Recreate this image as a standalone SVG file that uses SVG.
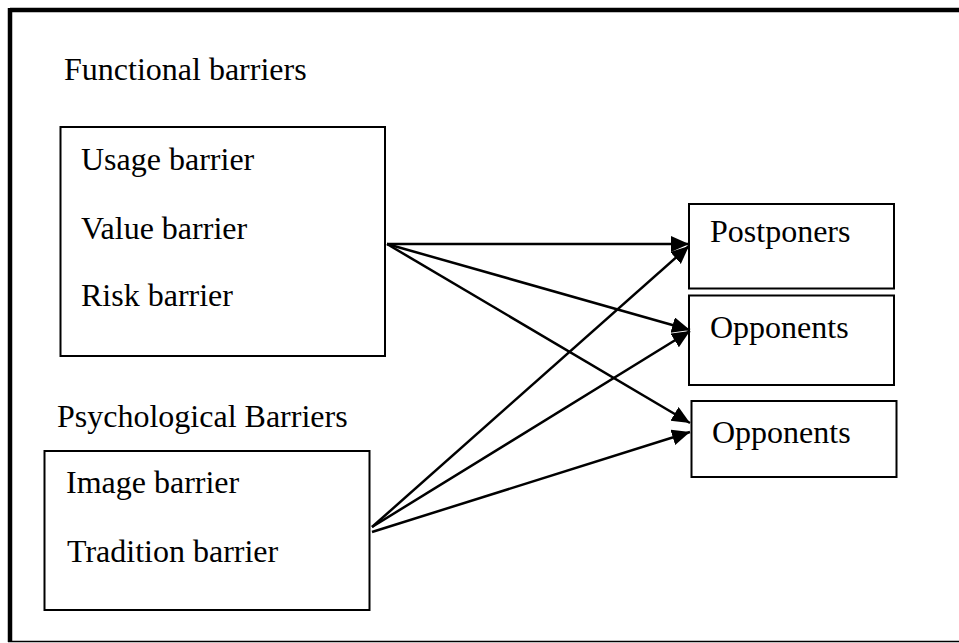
<svg xmlns="http://www.w3.org/2000/svg" width="959" height="643" viewBox="0 0 959 643">
  <style>
    .box { fill: #ffffff; stroke: #000000; stroke-width: 2; }
    .lbl { font-family: "Liberation Serif", "Times New Roman", serif; font-size: 32px; fill: #000000; }
    .link { stroke: #000000; stroke-width: 2.5; fill: none; marker-end: url(#arrow); }
  </style>
  <defs>
    <marker id="arrow" markerUnits="userSpaceOnUse" markerWidth="20" markerHeight="18" refX="18" refY="8" orient="auto">
      <path d="M0,0 L18,8 L0,16 Z" fill="#000000"/>
    </marker>
  </defs>

  <rect width="959" height="643" fill="#ffffff"/>

  <!-- outer frame: heavy top/left edges, light bottom edge -->
  <g id="frame">
    <line x1="8" y1="641.5" x2="959" y2="641.5" stroke="#000000" stroke-width="1.5"/>
    <line x1="10" y1="10" x2="959" y2="10" stroke="#000000" stroke-width="4.5"/>
    <line x1="10" y1="8" x2="10" y2="642" stroke="#000000" stroke-width="4.5"/>
  </g>

  <g id="functional">
    <text class="lbl" x="64" y="80">Functional barriers</text>
    <rect class="box" x="60.5" y="127" width="324.5" height="229"/>
    <text class="lbl" x="81" y="170">Usage barrier</text>
    <text class="lbl" x="81" y="239">Value barrier</text>
    <text class="lbl" x="81" y="306">Risk barrier</text>
  </g>

  <g id="psychological">
    <text class="lbl" x="57" y="427">Psychological Barriers</text>
    <rect class="box" x="44.5" y="451" width="325" height="159"/>
    <text class="lbl" x="66" y="493">Image barrier</text>
    <text class="lbl" x="67" y="562">Tradition barrier</text>
  </g>

  <g id="postponers">
    <rect class="box" x="689" y="204" width="205" height="84.5"/>
    <text class="lbl" x="710" y="242">Postponers</text>
  </g>

  <g id="opponents-1">
    <rect class="box" x="689" y="295.5" width="205" height="89.5"/>
    <text class="lbl" x="710" y="338">Opponents</text>
  </g>

  <g id="opponents-2">
    <rect class="box" x="691.5" y="401" width="205" height="76"/>
    <text class="lbl" x="712" y="443">Opponents</text>
  </g>

  <g id="connectors">
    <line class="link" x1="387" y1="244" x2="689" y2="244"/>
    <line class="link" x1="387" y1="244" x2="690" y2="330"/>
    <line class="link" x1="387" y1="244" x2="690" y2="423"/>
    <line class="link" x1="372" y1="527" x2="689" y2="246"/>
    <line class="link" x1="372" y1="527" x2="690" y2="331"/>
    <line class="link" x1="372" y1="532" x2="690" y2="432"/>
  </g>
</svg>
